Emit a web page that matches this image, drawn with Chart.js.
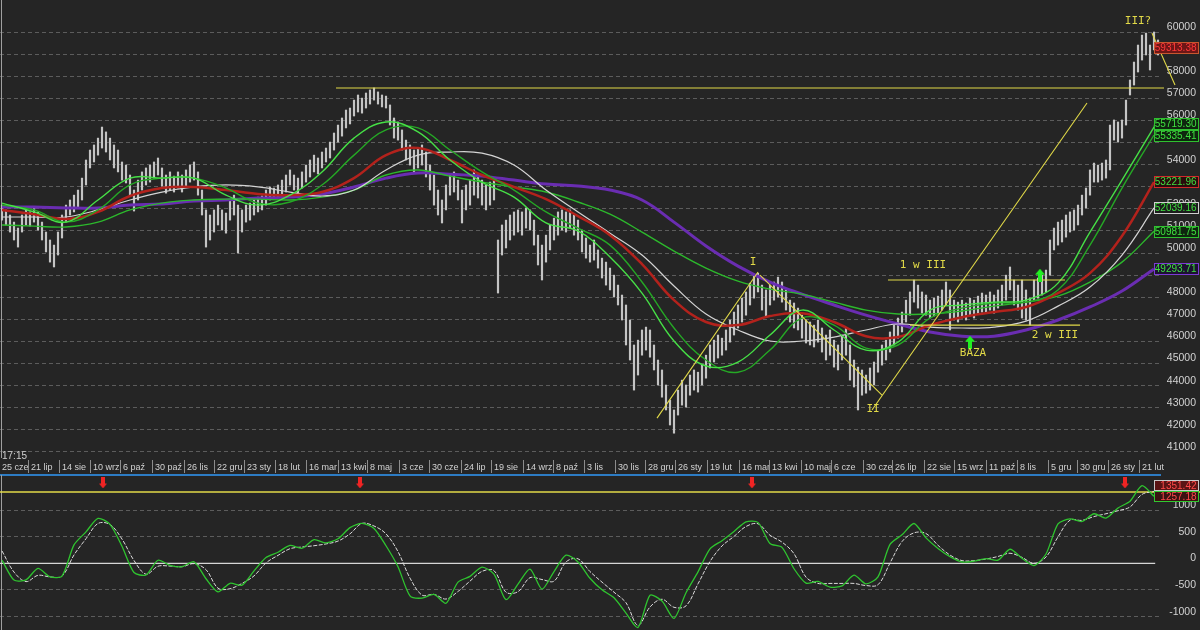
<!DOCTYPE html>
<html>
<head>
<meta charset="utf-8">
<script src="https://cdn.jsdelivr.net/npm/chart.js@4.4.1/dist/chart.umd.min.js"></script>
<style>
    html, body { margin: 0; padding: 0; background: #252525; }
    #wrap { position: relative; width: 1200px; height: 630px; overflow: hidden; background: #252525; }
    #mainBox { position: absolute; left: 0; top: 0; width: 1200px; height: 458px; }
    #oscBox { position: absolute; left: 0; top: 458px; width: 1200px; height: 172px; }
    #clock { position: absolute; left: 2px; top: 450px; font: 10px "Liberation Sans", Arial, sans-serif; color: #cfcfcf; }
</style>
</head>
<body>
<div id="wrap">
    <div id="mainBox"><canvas id="mainChart" width="1200" height="458"></canvas></div>
    <div id="oscBox"><canvas id="oscChart" width="1200" height="172"></canvas></div>
    <div id="clock">17:15</div>
</div>
<script>
// ── Data ──────────────────────────────────────────────────────────────────
// Price bars in thousands of points, one bar ≈ 2–3 sessions (high / low).
const barHigh = [
    52.17, 51.95, 51.72, 51.40, 51.13, 51.72, 51.95, 51.86, 52.04, 51.86,
    51.40, 50.95, 50.59, 50.36, 50.95, 51.72, 52.17, 52.40, 52.62, 52.85,
    53.39, 54.21, 54.66, 54.89, 55.20, 55.70, 55.48, 55.20, 54.89, 54.66,
    54.12, 53.98, 53.53, 52.85, 53.30, 53.67, 53.85, 53.98, 54.12, 54.30,
    53.85, 53.53, 53.67, 53.48, 53.67, 53.53, 53.76, 53.98, 54.12, 53.67,
    52.85, 51.95, 51.72, 51.95, 52.17, 51.95, 51.81, 52.40, 52.62, 52.17,
    51.95, 52.17, 52.26, 52.40, 52.53, 52.58, 52.85, 52.99, 52.94, 53.08,
    53.30, 53.53, 53.76, 53.53, 53.39, 53.67, 53.98, 54.21, 54.43, 54.30,
    54.57, 54.75, 55.02, 55.43, 55.79, 56.11, 56.47, 56.56, 56.92, 57.15,
    57.01, 57.24, 57.38, 57.47, 57.29, 57.15, 57.10, 56.70, 56.11, 55.93,
    55.57, 55.11, 54.89, 54.66, 54.75, 54.89, 54.57, 53.98, 53.53, 52.85,
    52.40, 53.08, 53.53, 53.67, 53.30, 52.85, 53.08, 53.30, 53.76, 53.53,
    53.30, 53.08, 53.21, 53.39, 50.59, 51.27, 51.49, 51.72, 51.86, 51.95,
    51.86, 52.04, 51.95, 51.49, 50.81, 50.36, 50.81, 51.27, 51.58, 51.86,
    51.95, 51.86, 51.95, 51.72, 51.49, 51.04, 50.68, 50.36, 50.59, 50.14,
    49.77, 49.59, 49.32, 49.00, 48.55, 48.10, 47.65, 46.97, 45.84, 46.06,
    46.52, 46.65, 46.52, 45.84, 45.16, 44.71, 44.03, 43.35, 42.90, 43.80,
    44.25, 44.03, 44.48, 44.71, 44.61, 44.93, 45.38, 45.84, 46.06, 46.29,
    46.15, 46.52, 46.97, 47.33, 47.65, 47.96, 48.24, 48.64, 49.00, 49.09,
    48.55, 48.33, 48.55, 48.69, 48.91, 48.69, 48.33, 47.87, 47.74, 47.51,
    47.19, 46.97, 46.88, 46.74, 46.97, 46.61, 46.29, 46.52, 46.06, 45.84,
    46.29, 46.61, 45.84, 45.16, 44.84, 44.71, 44.48, 44.80, 45.07, 45.61,
    45.84, 46.06, 46.43, 46.74, 47.06, 47.33, 47.87, 48.24, 48.78, 48.55,
    48.24, 48.10, 47.87, 47.96, 48.05, 48.33, 48.69, 48.33, 47.87, 47.78,
    47.87, 47.74, 47.96, 47.87, 48.05, 48.19, 48.10, 48.24, 48.10, 48.33,
    48.55, 49.00, 49.37, 48.78, 48.55, 48.78, 48.33, 47.96, 48.78, 48.87,
    49.00, 49.23, 50.59, 51.13, 51.40, 51.49, 51.72, 51.86, 51.95, 52.17,
    52.62, 52.94, 53.76, 54.07, 53.98, 54.07, 54.21, 55.79, 56.02, 55.93,
    56.02, 56.92, 57.83, 58.64, 59.41, 59.86, 59.95, 59.41, 60.00, 59.64,
];
const barLow = [
    51.49, 51.27, 50.95, 50.59, 50.27, 50.95, 51.27, 51.22, 51.40, 51.04,
    50.59, 50.05, 49.59, 49.37, 49.91, 50.68, 51.40, 51.72, 51.86, 52.04,
    52.40, 53.08, 53.85, 54.12, 54.43, 54.75, 54.57, 54.21, 53.85, 53.67,
    53.30, 53.17, 52.62, 51.90, 52.40, 52.85, 53.08, 53.21, 53.39, 53.53,
    53.03, 52.71, 52.85, 52.76, 52.94, 52.76, 53.03, 53.21, 53.30, 52.62,
    51.72, 50.27, 50.59, 50.95, 51.27, 51.04, 50.90, 51.49, 51.72, 50.00,
    50.95, 51.40, 51.49, 51.72, 51.86, 51.95, 52.17, 52.40, 52.49, 52.53,
    52.62, 52.76, 53.08, 52.85, 52.71, 52.94, 53.21, 53.44, 53.67, 53.58,
    53.85, 54.12, 54.30, 54.66, 55.02, 55.29, 55.66, 55.84, 56.20, 56.38,
    56.33, 56.56, 56.74, 56.92, 56.74, 56.61, 56.56, 55.79, 55.20, 55.11,
    54.66, 54.21, 53.98, 53.67, 53.85, 53.98, 53.44, 52.85, 52.17, 51.72,
    51.36, 51.95, 52.62, 52.76, 52.40, 51.36, 51.95, 52.17, 52.62, 52.49,
    52.17, 51.95, 52.17, 52.40, 48.19, 49.91, 50.23, 50.59, 50.81, 50.95,
    50.81, 51.13, 51.04, 50.36, 49.46, 48.78, 49.59, 50.14, 50.59, 50.81,
    51.04, 50.95, 51.13, 50.81, 50.59, 50.05, 49.77, 49.59, 49.68, 49.32,
    48.87, 48.55, 48.33, 48.01, 47.65, 46.97, 45.84, 45.16, 43.80, 44.48,
    45.38, 45.61, 45.29, 44.71, 44.03, 43.48, 42.90, 42.22, 41.85, 42.67,
    43.12, 43.03, 43.57, 43.80, 43.71, 44.03, 44.34, 44.80, 45.07, 45.25,
    45.38, 45.61, 45.97, 46.29, 46.61, 46.88, 47.19, 47.65, 47.96, 48.24,
    47.42, 47.10, 47.65, 47.87, 48.01, 47.78, 47.42, 46.88, 46.61, 46.52,
    46.15, 45.93, 45.84, 45.75, 45.97, 45.52, 45.16, 45.38, 44.84, 44.71,
    45.16, 45.38, 44.25, 43.94, 42.90, 43.57, 43.66, 43.80, 44.03, 44.61,
    44.93, 45.16, 45.52, 45.84, 46.15, 46.43, 46.88, 47.19, 47.78, 47.51,
    47.28, 47.19, 47.06, 47.15, 47.24, 47.42, 47.65, 46.52, 46.97, 46.88,
    47.06, 46.97, 47.15, 47.06, 47.24, 47.33, 47.28, 47.42, 47.28, 47.51,
    47.65, 47.87, 48.33, 47.65, 47.42, 47.06, 46.97, 46.74, 47.87, 47.96,
    48.10, 48.24, 49.00, 50.14, 50.36, 50.50, 50.72, 50.95, 51.04, 51.27,
    51.72, 52.04, 52.62, 53.21, 53.21, 53.30, 53.39, 53.76, 55.11, 55.02,
    55.20, 55.79, 57.15, 57.60, 58.19, 58.73, 58.96, 58.28, 59.19, 58.96,
];
const lastPrice = 59313.38;

// Moving averages (thousands), one reading every MA_STEP bars.
const MA_STEP = 8;
const maGreenFast = [52.26, 51.86, 51.40, 52.40, 53.39, 53.39, 53.39, 52.62, 52.17, 52.62, 53.67, 55.20, 55.93, 55.48, 54.21, 53.21, 52.53, 51.36, 51.00, 49.82, 48.19, 46.02, 44.89, 45.07, 46.29, 47.42, 46.52, 45.61, 45.97, 47.42, 47.65, 47.78, 47.87, 48.64, 50.95, 53.30, 55.70];
const maGreenMid = [52.17, 51.95, 51.40, 51.95, 53.08, 53.39, 53.39, 52.94, 52.26, 52.31, 53.08, 54.43, 55.57, 55.66, 54.66, 53.67, 52.85, 51.86, 51.13, 50.36, 48.69, 46.61, 45.16, 44.61, 45.61, 47.06, 46.74, 45.70, 45.84, 47.06, 47.51, 47.74, 47.78, 48.33, 50.36, 52.94, 55.34];
const maRed = [51.95, 51.76, 51.54, 51.86, 52.58, 52.94, 52.99, 52.85, 52.67, 52.62, 52.76, 53.39, 54.43, 54.75, 54.21, 53.53, 52.99, 52.44, 51.67, 50.81, 49.50, 47.87, 46.88, 46.74, 47.15, 47.28, 46.88, 46.24, 46.20, 46.74, 47.10, 47.33, 47.56, 48.19, 49.09, 50.77, 53.21];
const maWhite = [51.63, 51.63, 51.63, 51.95, 52.40, 52.76, 52.99, 53.08, 52.99, 52.76, 52.58, 52.85, 53.76, 54.43, 54.57, 54.52, 53.98, 52.85, 51.86, 50.90, 49.91, 48.51, 47.24, 46.52, 46.02, 46.02, 46.20, 46.52, 46.79, 46.65, 46.61, 46.65, 46.92, 47.60, 48.46, 49.91, 52.04];
const maGreenSlow = [51.27, 51.22, 51.18, 51.40, 51.95, 52.26, 52.40, 52.44, 52.44, 52.40, 52.53, 52.85, 53.53, 53.76, 53.48, 53.21, 52.99, 52.76, 52.31, 51.76, 50.95, 50.09, 49.32, 48.73, 48.37, 48.14, 47.78, 47.42, 47.24, 47.24, 47.38, 47.60, 47.78, 48.05, 48.69, 49.59, 50.99];
const maPurple = [52.08, 52.08, 52.04, 52.04, 52.17, 52.22, 52.35, 52.40, 52.49, 52.53, 52.67, 52.99, 53.39, 53.62, 53.57, 53.48, 53.30, 53.12, 53.03, 52.85, 52.40, 51.40, 50.32, 49.41, 48.69, 48.14, 47.65, 47.19, 46.79, 46.43, 46.24, 46.24, 46.52, 46.97, 47.56, 48.28, 49.28];
const maLast = [55719.30, 55335.41, 53221.96, 52039.16, 50981.75, 49293.71];

// Oscillator (lower panel), one reading every OSC_STEP bars.
const OSC_STEP = 3;
const oscFast = [
    60, -315, -310, -94, -253, -240, 345, 590, 843, 732,
    319, -172, -219, 58, -38, -64, 28, -289, -536, -375,
    -409, -142, 109, 208, 336, 283, 443, 383, 460, 670,
    749, 655, 330, -64, -611, -653, -583, -749, -353, -245,
    -70, -202, -681, -391, -108, -485, -155, 153, 26, -281,
    -498, -647, -934, -1202, -598, -708, -1032, -551, -160, 270,
    425, 598, 779, 768, 372, 300, -102, -372, -340, -447,
    -423, -221, -385, -253, 355, 534, 747, 477, 279, 125,
    25, 40, 89, 58, 264, 94, -42, 175, 742, 832,
    785, 930, 849, 1038, 1164, 1457, 1257,
];
const oscSignal = [
    232, -164, -343, -225, -255, -240, 157, 462, 747, 728,
    455, 53, -204, -55, -51, -64, -6, -119, -466, -477,
    -377, -236, 8, 149, 274, 306, 330, 364, 417, 553,
    749, 700, 553, 219, -277, -596, -583, -670, -528, -334,
    -151, -138, -542, -532, -270, -304, -334, 26, 85, -155,
    -353, -542, -740, -1164, -819, -674, -825, -798, -385, 34,
    326, 504, 691, 742, 526, 398, 181, -259, -377, -377,
    -377, -377, -417, -402, 6, 408, 572, 559, 338, 155,
    51, 51, 81, 128, 189, 111, 0, 119, 496, 810,
    806, 877, 930, 987, 1057, 1293, 1351,
];
const oscLevel = 1338;
const oscLast = [1351.42, 1257.18];

// Axes
const priceTicks = [41000, 42000, 43000, 44000, 45000, 46000, 47000, 48000, 49000, 50000,
    51000, 52000, 53000, 54000, 55000, 56000, 57000, 58000, 59000, 60000];
const oscTicks = [-1000, -500, 0, 500, 1000];
const dateTicks = [-0.5, 6.75, 14.5, 22.25, 29.75, 37.75, 45.75, 53.25, 60.75, 68.5,
    76.25, 84.25, 91.5, 99.5, 107, 115, 122.5, 130.5, 138, 145.75,
    153.5, 161, 168.5, 176.5, 184.5, 192, 200, 207.5, 215.5, 222.75,
    230.75, 238.25, 246.25, 254, 261.75, 269, 276.75, 284.5];
const dateLabels = ['25 cze', '21 lip', '14 sie', '10 wrz', '6 paź', '30 paź', '26 lis', '22 gru', '23 sty', '18 lut',
    '16 mar', '13 kwi', '8 maj', '3 cze', '30 cze', '24 lip', '19 sie', '14 wrz', '8 paź', '3 lis',
    '30 lis', '28 gru', '26 sty', '19 lut', '16 mar', '13 kwi', '10 maj', '6 cze', '30 cze', '26 lip',
    '22 sie', '15 wrz', '11 paź', '8 lis', '5 gru', '30 gru', '26 sty', '21 lut'];

// Hand-drawn analysis: [barFrom, valueFrom, barTo, valueTo] in thousands
const trendLines = [
    [83.5, 57.47, 290.5, 57.47],
    [163.75, 42.53, 189, 49.14],
    [189.5, 49.0, 220, 43.57],
    [217.5, 42.9, 271.25, 56.79],
    [221.5, 48.78, 265.75, 48.78],
    [227, 46.74, 269.5, 46.74],
    [287.5, 59.95, 293.25, 57.6],
];
const notes = [
    { text: 'I', x: 187.75, y: 49.59 },
    { text: 'II', x: 217.75, y: 42.94 },
    { text: '1 w III', x: 230.25, y: 49.46 },
    { text: 'BAZA', x: 242.75, y: 45.48 },
    { text: '2 w III', x: 263.25, y: 46.29 },
    { text: 'III?', x: 284, y: 60.5 },
];
const buySignals = [{ x: 242, y: 45.97 }, { x: 259.5, y: 49.0 }];
const sellSignals = [25.25, 89.5, 187.5, 280.75];
const sellLevel = 1507;

// ── Style ─────────────────────────────────────────────────────────────────
const K = 1000;
const YELLOW = '#e2da48';
const GRID = '#5c5c5c';
const LABEL = '#d2d2d2';
const FONT = '"Liberation Sans", Arial, sans-serif';
const BOX_LEFT = 1154.5;
const BOX_W = 44;

Chart.defaults.font.family = FONT;
Chart.defaults.color = LABEL;
Chart.defaults.animation = false;
Chart.defaults.plugins.legend.display = false;
Chart.defaults.plugins.tooltip.enabled = false;

const maSeries = [
    { data: maPurple, color: '#6a2db2', width: 3, box: '#7b3bd4', fill: '#1b1230', order: 7 },
    { data: maGreenSlow, color: '#2cb82c', width: 1.4, box: '#2fc02f', fill: '#0e260e', order: 6 },
    { data: maWhite, color: '#d4d4d4', width: 1.2, box: '#cfcfcf', fill: '#1c1c1c', order: 5 },
    { data: maRed, color: '#b3221c', width: 2.5, box: '#d02a2a', fill: '#2a0c0c', order: 4 },
    { data: maGreenMid, color: '#25a825', width: 1.4, box: '#2fc02f', fill: '#0e260e', order: 3 },
    { data: maGreenFast, color: '#46e046', width: 1.4, box: '#2fc02f', fill: '#0e260e', order: 2 },
];
const maLastByLine = [maLast[5], maLast[4], maLast[3], maLast[2], maLast[1], maLast[0]];

function makeArrow(color, up, w, h) {
    const c = document.createElement('canvas');
    c.width = w; c.height = h;
    const g = c.getContext('2d');
    const head = Math.round(h * 0.45), s1 = Math.round(w * 0.3), s2 = w - s1;
    g.fillStyle = color;
    g.beginPath();
    if (up) {
        g.moveTo(w / 2, 0); g.lineTo(w, head); g.lineTo(s2, head); g.lineTo(s2, h);
        g.lineTo(s1, h); g.lineTo(s1, head); g.lineTo(0, head);
    } else {
        g.moveTo(s1, 0); g.lineTo(s2, 0); g.lineTo(s2, h - head); g.lineTo(w, h - head);
        g.lineTo(w / 2, h); g.lineTo(0, h - head); g.lineTo(s1, h - head);
    }
    g.closePath();
    g.fill();
    return c;
}

// Value boxes on the right edge, pushed apart when they would overlap
function drawBoxes(ctx, yScale, items, h) {
    items.forEach((it) => { it.py = yScale.getPixelForValue(it.value); });
    items.sort((a, b) => a.py - b.py);
    for (let i = items.length - 2; i >= 0; i--) {
        if (items[i].py > items[i + 1].py - h - 1) items[i].py = items[i + 1].py - h - 1;
    }
    ctx.save();
    ctx.font = '10px ' + FONT;
    ctx.textAlign = 'right';
    ctx.textBaseline = 'middle';
    items.forEach((it) => {
        const top = Math.round(it.py - h / 2) + 0.5;
        if (it.from) {
            ctx.strokeStyle = it.line;
            ctx.lineWidth = 1;
            ctx.beginPath();
            ctx.moveTo(it.from[0], it.from[1]);
            ctx.lineTo(BOX_LEFT, top + h / 2);
            ctx.stroke();
        }
        ctx.fillStyle = it.fill;
        ctx.fillRect(BOX_LEFT, top, BOX_W, h);
        ctx.strokeStyle = it.border;
        ctx.lineWidth = 1;
        ctx.strokeRect(BOX_LEFT, top, BOX_W, h);
        ctx.fillStyle = it.text;
        ctx.fillText(it.value.toFixed(2), BOX_LEFT + BOX_W - 2, top + h / 2 + 0.5);
    });
    ctx.restore();
}

const leftCursor = {
    id: 'leftCursor',
    beforeDatasetsDraw(chart) {
        const { ctx, chartArea } = chart;
        ctx.save();
        ctx.strokeStyle = '#a0a0a0';
        ctx.lineWidth = 1;
        ctx.beginPath();
        ctx.moveTo(chartArea.left + 1.5, chartArea.top);
        ctx.lineTo(chartArea.left + 1.5, chartArea.bottom);
        ctx.stroke();
        ctx.restore();
    },
};

// ── Main price panel ──────────────────────────────────────────────────────
const mainPlugins = {
    id: 'mainExtras',
    afterDatasetsDraw(chart) {
        const { ctx, scales: { x, y } } = chart;
        ctx.save();
        ctx.font = '11px "DejaVu Sans Mono", monospace';
        ctx.fillStyle = YELLOW;
        ctx.textAlign = 'center';
        ctx.textBaseline = 'middle';
        notes.forEach((n) => ctx.fillText(n.text, x.getPixelForValue(n.x), y.getPixelForValue(n.y * K)));
        ctx.restore();
    },
    afterDraw(chart) {
        const { ctx, scales: { x, y } } = chart;
        const lastIdx = maPurple.length - 1;
        const items = maSeries.map((s, i) => ({
            value: maLastByLine[i],
            from: [x.getPixelForValue(lastIdx * MA_STEP), y.getPixelForValue(s.data[lastIdx] * K)],
            line: s.color, border: s.box, fill: s.fill, text: '#3fe03f',
        }));
        items.push({ value: lastPrice, border: '#c8562e', fill: '#6e1616', text: '#ff3a3a' });
        drawBoxes(ctx, y, items, 11);
    },
};

new Chart(document.getElementById('mainChart'), {
    type: 'bar',
    data: {
        datasets: [
            {
                type: 'bar',
                data: barHigh.map((h, i) => ({ x: i, y: [barLow[i] * K, h * K] })),
                backgroundColor: '#c4c4c4',
                barThickness: 1.5,
                grouped: false,
                order: 10,
            },
            ...maSeries.map((s) => ({
                type: 'line',
                data: s.data.map((v, k) => ({ x: k * MA_STEP, y: v * K })),
                borderColor: s.color,
                borderWidth: s.width,
                pointRadius: 0,
                tension: 0.4,
                order: s.order,
            })),
            ...trendLines.map((t) => ({
                type: 'line',
                data: [{ x: t[0], y: t[1] * K }, { x: t[2], y: t[3] * K }],
                borderColor: YELLOW,
                borderWidth: 1.1,
                pointRadius: 0,
                clip: false,
                order: 1,
            })),
            {
                type: 'line',
                data: buySignals.map((p) => ({ x: p.x, y: p.y * K })),
                showLine: false,
                pointStyle: makeArrow('#22f022', true, 10, 13),
                pointRadius: 5,
                order: 0,
            },
        ],
    },
    options: {
        responsive: false,
        devicePixelRatio: 1,
        layout: { autoPadding: false, padding: { left: 0, right: 4, top: 0, bottom: 0 } },
        scales: {
            x: { type: 'linear', min: -0.5, max: 289.5, offset: false, display: false },
            y: {
                position: 'right',
                min: 40728,
                max: 61448,
                bounds: 'data',
                afterBuildTicks: (s) => { s.ticks = priceTicks.map((value) => ({ value })); },
                afterFit: (s) => { s.width = 36; s.paddingTop = 0; s.paddingBottom = 0; },
                grid: { color: GRID, drawTicks: false },
                border: { display: false, dash: [4, 3] },
                ticks: { crossAlign: 'far', labelOffset: -5, padding: 4, font: { size: 10.5 }, color: LABEL, callback: (v) => String(v) },
            },
        },
    },
    plugins: [leftCursor, mainPlugins],
});

// ── Oscillator panel (with the date strip on top) ─────────────────────────
const oscPlugins = {
    id: 'oscExtras',
    afterDraw(chart) {
        const { ctx, scales: { x, y } } = chart;
        ctx.save();
        ctx.strokeStyle = '#8c8c8c';
        ctx.lineWidth = 1;
        x.ticks.forEach((t, i) => {
            if (i === 0) return;
            const px = Math.round(x.getPixelForValue(t.value)) - 0.5;
            ctx.beginPath();
            ctx.moveTo(px, 2);
            ctx.lineTo(px, 15);
            ctx.stroke();
        });
        ctx.restore();
        drawBoxes(ctx, y, [
            { value: oscLast[0], border: '#c8c8c8', fill: '#5a1414', text: '#ff4a4a' },
            { value: oscLast[1], border: '#30c830', fill: '#3a1212', text: '#ff4a4a' },
        ], 10);
    },
};

new Chart(document.getElementById('oscChart'), {
    type: 'line',
    data: {
        datasets: [
            {
                data: oscFast.map((v, k) => ({ x: k * OSC_STEP, y: v })),
                borderColor: '#2fc42f',
                borderWidth: 1.3,
                pointRadius: 0,
                tension: 0.25,
                order: 1,
            },
            {
                data: oscSignal.map((v, k) => ({ x: k * OSC_STEP, y: v })),
                borderColor: '#dcdcdc',
                borderWidth: 1,
                borderDash: [4, 1.5],
                pointRadius: 0,
                tension: 0.35,
                order: 2,
            },
            {
                data: [{ x: -0.5, y: 0 }, { x: 288.3, y: 0 }],
                borderColor: '#d6d6d6',
                borderWidth: 1.2,
                pointRadius: 0,
                order: 3,
            },
            {
                data: [{ x: -0.5, y: oscLevel }, { x: 300, y: oscLevel }],
                borderColor: YELLOW,
                borderWidth: 1.3,
                pointRadius: 0,
                clip: false,
                order: 4,
            },
            {
                data: sellSignals.map((x) => ({ x, y: sellLevel })),
                showLine: false,
                pointStyle: makeArrow('#f02424', false, 8, 11),
                pointRadius: 5,
                order: 0,
            },
        ],
    },
    options: {
        responsive: false,
        devicePixelRatio: 1,
        layout: { autoPadding: false, padding: { left: 0, right: 4, top: 0, bottom: 0 } },
        scales: {
            x: {
                type: 'linear',
                position: 'top',
                min: -0.5,
                max: 289.5,
                offset: false,
                afterBuildTicks: (s) => { s.ticks = dateTicks.map((value) => ({ value })); },
                afterFit: (s) => { s.height = 17; s.paddingLeft = 0; s.paddingRight = 0; },
                grid: { display: false, drawTicks: false },
                border: { display: true, color: '#2d7cc4', width: 2 },
                ticks: {
                    autoSkip: false, maxRotation: 0, minRotation: 0, align: 'start',
                    labelOffset: 2, padding: 2, font: { size: 9 }, color: LABEL,
                    callback: (v, i) => dateLabels[i],
                },
            },
            y: {
                position: 'right',
                min: -1251,
                max: 1657,
                bounds: 'data',
                afterBuildTicks: (s) => { s.ticks = oscTicks.map((value) => ({ value })); },
                afterFit: (s) => { s.width = 36; s.paddingTop = 0; s.paddingBottom = 0; },
                grid: { color: (c) => (c.tick && c.tick.value === 0 ? 'rgba(0,0,0,0)' : GRID), drawTicks: false },
                border: { display: false, dash: [4, 3] },
                ticks: { crossAlign: 'far', labelOffset: -5, padding: 4, font: { size: 10.5 }, color: LABEL, callback: (v) => String(v) },
            },
        },
    },
    plugins: [leftCursor, oscPlugins],
});
</script>
</body>
</html>
